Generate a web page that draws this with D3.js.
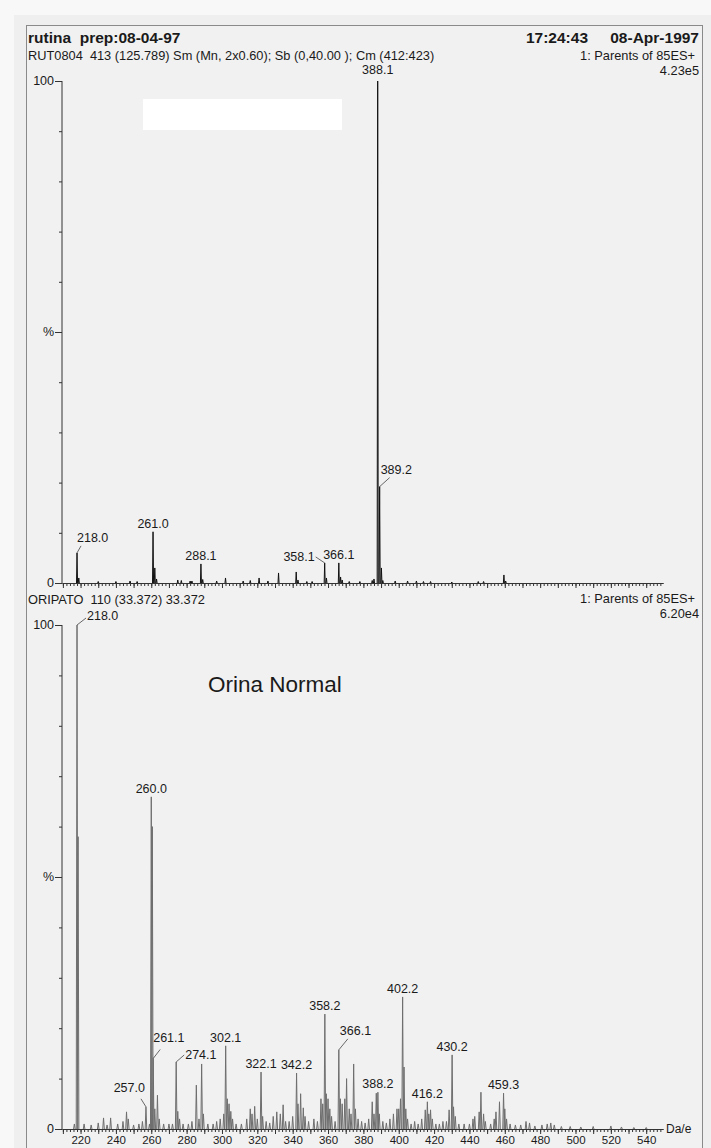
<!DOCTYPE html>
<html><head><meta charset="utf-8">
<script src="https://cdn.jsdelivr.net/npm/d3@7"></script>
<style>
html,body{margin:0;padding:0;background:#f8f8f8;}
svg{display:block;font-family:"Liberation Sans",Arial,sans-serif;}
</style></head><body>
<svg id="c" width="711" height="1148"></svg>
<script>
// ---------- data ----------
const xDomain = [209.5, 549.5];
const xTickLabels = [220,240,260,280,300,320,340,360,380,400,420,440,460,480,500,520,540];
const yTickValues = [0,10,20,30,40,50,60,70,80,90,100];

const topHeader = ["rutina  prep:08-04-97", "RUT0804  413 (125.789) Sm (Mn, 2x0.60); Sb (0,40.00 ); Cm (412:423)"];
const topRight = ["17:24:43", "08-Apr-1997", "1: Parents of 85ES+", "4.23e5"];
const bottomHeader = ["ORIPATO  110 (33.372) 33.372"];
const bottomRight = ["1: Parents of 85ES+", "6.20e4"];
const annotation = "Orina Normal";
const xUnit = "Da/e";

// [m/z, relative intensity %]
const topPeaks = [
  [218.0,6.0],[219.0,1.0],[230,0.3],[240,0.3],[248,0.4],[252,0.3],
  [261.0,10.2],[262.0,3.0],[263.0,0.8],[275,0.6],[277,0.5],[282,0.4],[283,0.4],
  [288.1,3.8],[289.1,0.7],[297,0.4],[302,1.0],[312,0.4],[316,0.5],[321,1.0],[326,0.4],
  [332,2.0],[342,2.2],[343,0.6],[348,0.3],[351,0.3],
  [358.1,4.0],[359.1,1.0],[366.1,4.0],[367.1,1.2],[368,0.6],[372,0.3],[378,0.3],
  [385,0.5],[386,0.8],[388.1,100],[389.2,19.2],[390.2,3.0],[391,0.5],
  [398,0.4],[405,0.4],[410,0.4],[414,0.3],[418,0.3],[430,0.2],[445,0.3],[448,0.3],
  [459.5,1.6],[460.5,0.4]
];
const topLabels = ["218.0","261.0","288.1","358.1","366.1","388.1","389.2"];

const bottomPeaks = [
  [216.5,1.0],[218.0,100],[218.6,58],[222,1.0],[226,0.8],[230,1.2],[233,2.2],[235,0.8],
  [237,2.2],[241,1.0],[244,1.5],[246,3.4],[247,2.0],[250,0.8],[253,1.0],[255,1.5],
  [257.0,4.4],[259,1.0],[260.0,65.9],[260.6,60],[261.1,14],[262,4],[263.5,6.7],[264.5,2],
  [267,1],[270,1.0],[272,1.0],[274.1,13.3],[275,3.5],[276,2],[278,1],[281,1],[283,1.5],
  [285.5,8.7],[287,2],[288.5,12.9],[289.5,3],[292,1],[295,1],[297,1.5],[299,2],[301,3],
  [302.1,16.5],[303,6],[304,5],[305,3.5],[306,2],[308,1],[311,1],[314,2],[316,4],[317,3],
  [318.5,4.5],[320,2],[322.1,11.3],[323,2.5],[325,1.5],[327,1.2],[329,2.5],[331,3.4],
  [333,3],[334.6,4.8],[336,1.5],[338,1.5],[340,2.5],[342.2,11.1],[343,5],[344.5,7],
  [346,4.2],[347,2.5],[349,1.5],[352,2],[354,1.5],[356,6],[357,5],[358.2,22.8],[359,7],
  [360,6],[361,4],[362,2.5],[364,1.5],[366.1,15.7],[367,6],[368,5],[369.5,6],[370.5,10],
  [372,4],[373,3],[374.5,12.9],[375.5,4],[377,2],[379,1.5],[381,1.2],[383,2],[385,5.4],
  [386,3],[387.3,7.1],[388.2,7.3],[389,3],[391,1.5],[393,1.2],[395,2],[397,3],[399,4],
  [400,4],[401,6],[402.2,26.2],[403,12.3],[404,4],[405,2],[407,1],[409,1.5],[411,1],
  [413,2],[415,3.8],[416.2,5.4],[417,3],[418,3.8],[419,2],[421,1],[423,1],[425,1.5],
  [427,1.5],[428.5,3.8],[430.2,14.7],[431,4.4],[432,2.5],[434,1],[437,1],[440,1],[442,2],
  [443,2.5],[445.5,3.4],[446.5,7.3],[448,3],[449,1.5],[452,1],[454,2],[455,3.4],[457,5.4],
  [459.3,7.1],[460,4],[461,2],[463,1],[466,0.8],[469,0.8],[472,1.5],[474,1.2],[477,0.6],
  [481,0.8],[484,1.0],[486,1.2],[488,0.8],[492,0.5],[497,0.5],[503,0.4],[510,0.5],
  [520,0.6],[526,0.4],[533,0.3],[540,0.3]
];
const bottomLabels = ["218.0","257.0","260.0","261.1","274.1","302.1","322.1","342.2",
  "358.2","366.1","388.2","402.2","416.2","430.2","459.3"];

// ---------- layout (positions / styles) ----------
const W = 711, H = 1148;
const svg = d3.select("#c");
const ink = "#1a1a1a";
const labelFont = 12.5;

// label placement relative to peak top: anchor, dx, dy (baseline), optional leader end
const topLabelLayout = {
  "218.0": {a:"start", dx:0, dy:-11, lead:[4,-7]},
  "358.1": {a:"end", dx:-10, dy:-2, lead:[-9,-6]},
  "388.1": {a:"middle", dx:0, dy:-7},
  "389.2": {a:"start", dx:1, dy:-13, lead:[10,-9]}
};
const bottomLabelLayout = {
  "218.0": {a:"start", dx:10, dy:-5, lead:[9,-7]},
  "257.0": {a:"end", dx:-1, dy:-15, lead:[-5,-8]},
  "261.1": {a:"start", dx:0, dy:-16, lead:[7,-9]},
  "274.1": {a:"start", dx:9, dy:-3, lead:[8,-7]},
  "366.1": {a:"start", dx:1, dy:-15, lead:[9,-11]}
};

// background + frame
svg.append("rect").attr("x",14).attr("y",15).attr("width",W).attr("height",H).attr("fill","#efefef");
svg.append("rect").attr("x",26.5).attr("y",25.5).attr("width",676).attr("height",H).attr("fill","#f1f1f1")
  .attr("stroke","#8a8a8a").attr("stroke-width",1);

const x = d3.scaleLinear().domain(xDomain).range([62, 663]);

function panel(cfg) {
  const y = d3.scaleLinear().domain([0,100]).range([cfg.y0, cfg.y100]);
  const g = svg.append("g");

  // x axis: minor / medium ticks
  const minor = d3.axisBottom(x).tickValues(d3.range(210, 550, 2)).tickSize(3).tickSizeOuter(0).tickFormat("");
  const mid = d3.axisBottom(x).tickValues(d3.range(210, 550, 10)).tickSize(5).tickSizeOuter(0).tickFormat("");
  [minor, mid].forEach(ax => {
    const a = g.append("g").attr("transform", `translate(0,${cfg.y0})`).call(ax);
    a.selectAll("line,path").attr("stroke","#333");
  });
  if (cfg.labels) {
    const a = g.append("g").attr("transform", `translate(0,${cfg.y0})`)
      .call(d3.axisBottom(x).tickValues(xTickLabels).tickSize(0).tickPadding(0).tickFormat(d3.format("d")));
    a.select(".domain").remove();
    a.selectAll("text").attr("font-size",11.5).attr("fill",ink).attr("font-family",null)
      .attr("dy",null).attr("y",15);
    g.append("text").attr("x",666).attr("y",cfg.y0+4).attr("font-size",12).attr("fill",ink).text(xUnit);
  }

  // y axis
  const ym = g.append("g").attr("transform","translate(62,0)")
    .call(d3.axisLeft(y).tickValues(yTickValues).tickSize(3).tickFormat(""));
  ym.selectAll("line,path").attr("stroke","#333");
  ym.select(".domain").attr("d", `M0,${cfg.y100}V${cfg.y0}`);
  const yl = g.append("g").attr("transform","translate(62,0)")
    .call(d3.axisLeft(y).tickValues([0,50,100]).tickSize(7).tickPadding(1)
      .tickFormat(d => d === 50 ? "%" : String(d)));
  yl.select(".domain").remove();
  yl.selectAll("line").attr("stroke","#333");
  yl.selectAll("text").attr("font-size",12.5).attr("fill",ink).attr("font-family",null).attr("dy","0.3em");

  // spectrum peaks
  const line = d3.line().x(d => x(d[0])).y(d => y(d[1]));
  g.append("g").selectAll("path").data(cfg.peaks).join("path")
    .attr("d", d => line([[d[0]-cfg.hw,0],[d[0],d[1]],[d[0]+cfg.hw,0]]))
    .attr("fill","none").attr("stroke",cfg.color).attr("stroke-width",cfg.sw);

  // peak labels
  const lg = g.append("g");
  cfg.peakLabels.forEach(lab => {
    const mz = parseFloat(lab);
    const pk = cfg.peaks.find(p => Math.abs(p[0]-mz) < 0.01);
    const px = x(pk[0]), py = y(pk[1]);
    const L = cfg.layout[lab] || {a:"middle", dx:0, dy:-4};
    if (L.lead) {
      lg.append("line").attr("x1",px).attr("y1",py).attr("x2",px+L.lead[0]).attr("y2",py+L.lead[1])
        .attr("stroke","#444").attr("stroke-width",0.8);
    }
    lg.append("text").attr("x",px+L.dx).attr("y",py+L.dy).attr("text-anchor",L.a)
      .attr("font-size",labelFont).attr("fill",ink).text(lab);
  });
  return g;
}

panel({y0:583, y100:81, peaks:topPeaks, peakLabels:topLabels, layout:topLabelLayout,
  color:"#111", hw:0.3, sw:1, labels:false});
panel({y0:1129, y100:625, peaks:bottomPeaks, peakLabels:bottomLabels, layout:bottomLabelLayout,
  color:"#6e6e6e", hw:0.45, sw:1, labels:true});

// header texts
svg.append("text").attr("x",28).attr("y",43).attr("font-size",15.5).attr("font-weight","bold").attr("fill",ink)
  .style("white-space","pre").text(topHeader[0]);
svg.append("text").attr("x",28).attr("y",60).attr("font-size",12.8).attr("fill",ink)
  .style("white-space","pre").text(topHeader[1]);
svg.append("text").attr("x",588).attr("y",43).attr("font-size",15.5).attr("font-weight","bold").attr("fill",ink)
  .attr("text-anchor","end").text(topRight[0]);
svg.append("text").attr("x",699).attr("y",43).attr("font-size",15.5).attr("font-weight","bold").attr("fill",ink)
  .attr("text-anchor","end").text(topRight[1]);
svg.append("text").attr("x",695).attr("y",60).attr("font-size",12.8).attr("fill",ink)
  .attr("text-anchor","end").text(topRight[2]);
svg.append("text").attr("x",699).attr("y",75).attr("font-size",12.8).attr("fill",ink)
  .attr("text-anchor","end").text(topRight[3]);

svg.append("text").attr("x",28).attr("y",604).attr("font-size",12.8).attr("fill",ink)
  .style("white-space","pre").text(bottomHeader[0]);
svg.append("text").attr("x",695).attr("y",603).attr("font-size",12.8).attr("fill",ink)
  .attr("text-anchor","end").text(bottomRight[0]);
svg.append("text").attr("x",699).attr("y",618).attr("font-size",12.8).attr("fill",ink)
  .attr("text-anchor","end").text(bottomRight[1]);

// redaction box and annotation
svg.append("rect").attr("x",143).attr("y",99).attr("width",199).attr("height",31).attr("fill","#ffffff");
svg.append("text").attr("x",208).attr("y",692).attr("font-size",22.5).attr("fill",ink).text(annotation);
</script>
</body></html>
